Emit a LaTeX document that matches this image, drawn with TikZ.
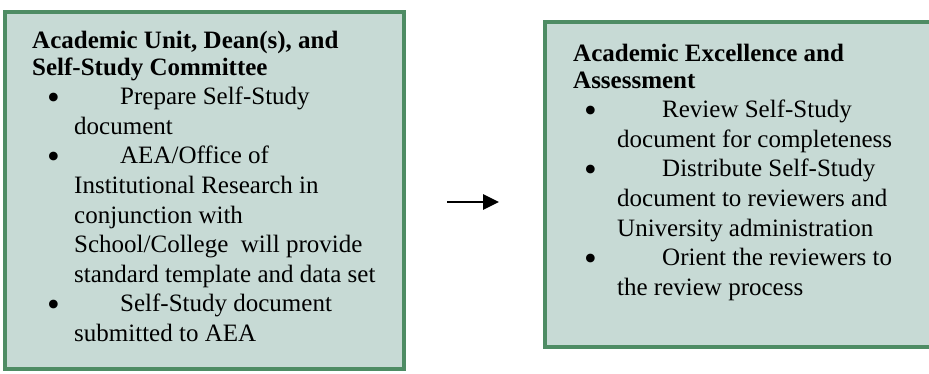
\documentclass[tikz,border=0pt]{standalone}
\usepackage{fontspec}
\setmainfont{Liberation Serif}
\usetikzlibrary{arrows.meta}
\definecolor{boxfill}{RGB}{199,218,213}
\definecolor{boxedge}{RGB}{78,140,100}
\tikzset{
  panel/.style={draw=boxedge, line width=4pt, fill=boxfill},
  paneltext/.style={anchor=north west, inner sep=0pt, align=left, font=\fontsize{25}{29.6}\selectfont},
  flow/.style={line width=2.8pt, -{Triangle[length=16pt,width=15pt]}}
}
\newcommand{\bigbul}{\raisebox{-4.5pt}[0pt][0pt]{\scalebox{1.45}{\textbullet}}}
\begin{document}
\begin{tikzpicture}[x=1pt,y=-1pt]
\useasboundingbox (0,0) rectangle (929,373);
\fill[white] (0,0) rectangle (929,373);
\draw[panel] (5,12) rectangle (404,369);
\node[paneltext] (ta) at (32,31) {%
\textbf{Academic Unit, Dean(s), and}\\[-3pt]
\textbf{Self-Study Committee}\\
\hspace*{15pt}\makebox[73pt][l]{\bigbul}Prepare Self-Study\\
\hspace*{42pt}document\\
\hspace*{15pt}\makebox[73pt][l]{\bigbul}AEA/Office of\\
\hspace*{42pt}Institutional Research in\\
\hspace*{42pt}conjunction with\\
\hspace*{42pt}School/College\ \ will provide\\
\hspace*{42pt}standard template and data set\\
\hspace*{15pt}\makebox[73pt][l]{\bigbul}Self-Study document\\
\hspace*{42pt}submitted to AEA};
\draw[panel] (545,22) rectangle (940,347);
\node[paneltext] (tb) at (573,44) {%
\textbf{Academic Excellence and}\\[-3pt]
\textbf{Assessment}\\
\hspace*{11pt}\makebox[78pt][l]{\bigbul}Review Self-Study\\
\hspace*{44pt}document for completeness\\
\hspace*{11pt}\makebox[78pt][l]{\bigbul}Distribute Self-Study\\
\hspace*{44pt}document to reviewers and\\
\hspace*{44pt}University administration\\
\hspace*{11pt}\makebox[78pt][l]{\bigbul}Orient the reviewers to\\
\hspace*{44pt}the review process};
\coordinate (a1) at (447,202);
\coordinate (a2) at (499,202);
\draw[flow] (a1) -- (a2);
\end{tikzpicture}
\end{document}
